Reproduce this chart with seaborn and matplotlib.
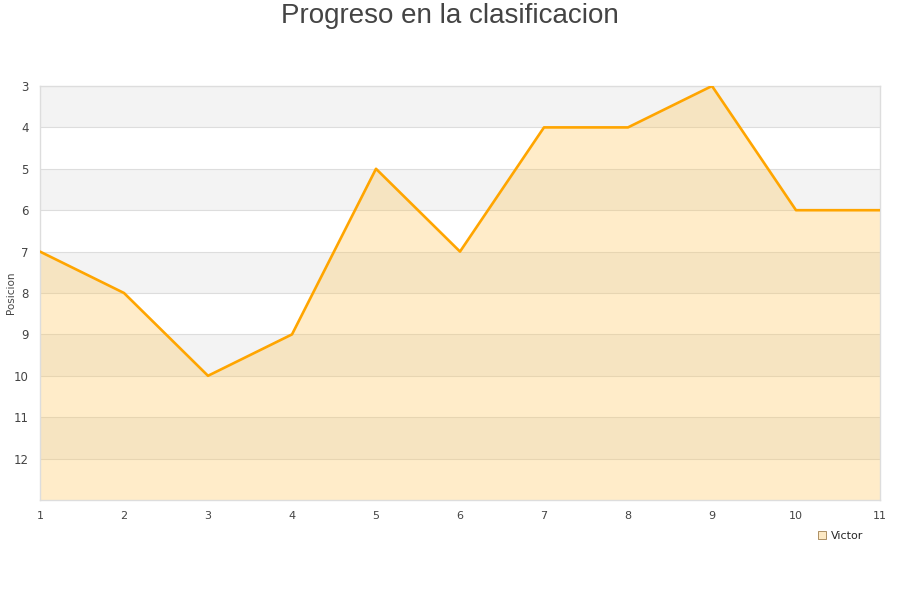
import matplotlib
matplotlib.use("Agg")
import matplotlib.pyplot as plt
import seaborn as sns
import pandas as pd
from matplotlib.lines import Line2D

jornadas = [1, 2, 3, 4, 5, 6, 7, 8, 9, 10, 11]
posicion = [7, 8, 10, 9, 5, 7, 4, 4, 3, 6, 6]
jugador = "Victor"
y_ticks = [3, 4, 5, 6, 7, 8, 9, 10, 11, 12]

df = pd.DataFrame({"Jornada": jornadas, "Posicion": posicion})

sns.set_style("white")
plt.rcParams["font.family"] = ["DejaVu Sans"]

fig = plt.figure(figsize=(9, 6), dpi=100)
ax = fig.add_axes([40 / 900, 100 / 600, 840 / 900, 414 / 600])

# bandas alternas
for y0 in range(3, 13, 2):
    ax.axhspan(y0, y0 + 1, color="#f3f3f3", zorder=0, lw=0)
for y in range(4, 13):
    ax.axhline(y, color="#dddddd", lw=0.8, zorder=1)

ax.fill_between(df["Jornada"], df["Posicion"], 13, color="#ffc34f", alpha=0.3, lw=0, zorder=2)
sns.lineplot(data=df, x="Jornada", y="Posicion", color="#ffa500", lw=1.9, ax=ax, zorder=3)

ax.set_xlim(1, 11)
ax.set_ylim(13, 3)
ax.set_xticks(jornadas)
ax.set_yticks(y_ticks)
ax.tick_params(axis="both", length=0, labelsize=8, colors="#444444")
ax.tick_params(axis="x", pad=8)
ax.tick_params(axis="y", pad=8, labelsize=8.5)
ax.set_xlabel("")
ax.set_ylabel("")
fig.text(11 / 900, 1 - 293 / 600, "Posicion", rotation=90, fontsize=7.5,
         color="#444444", ha="center", va="center")
for s in ax.spines.values():
    s.set_color("#dddddd")
    s.set_linewidth(1)

fig.suptitle("Progreso en la clasificacion", fontsize=20, color="#444444",
             family=["Liberation Sans", "DejaVu Sans"], y=0.995)

handle = Line2D([], [], marker="s", ls="none", markersize=6,
                markerfacecolor="#fde9c4", markeredgecolor="#a08050", markeredgewidth=0.6)
fig.legend([handle], [jugador], loc="center", bbox_to_anchor=(840 / 900, 1 - 536 / 600),
           frameon=False, fontsize=8, handletextpad=0.3, handlelength=1)

fig.savefig("out.png", dpi=100)
plt.close()
